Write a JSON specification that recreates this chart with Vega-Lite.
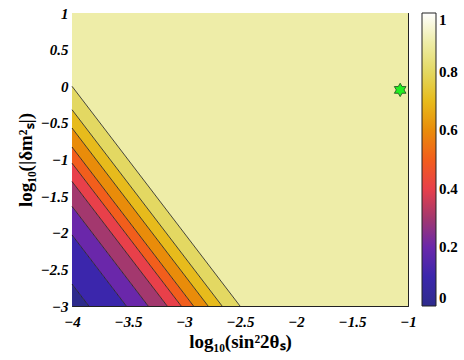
{
  "$schema": "https://vega.github.io/schema/vega-lite/v6.json",
  "width": 336,
  "height": 293,
  "autosize": {"type": "none"},
  "padding": {"left": 72, "top": 13, "right": 56, "bottom": 54},
  "background": "white",
  "config": {
    "view": {"stroke": "#222222", "strokeWidth": 1},
    "axis": {
      "labelFont": "Liberation Serif",
      "labelFontWeight": "bold",
      "labelFontStyle": "italic",
      "labelFontSize": 15,
      "labelColor": "black",
      "titleFont": "Liberation Serif",
      "titleFontWeight": "bold",
      "titleFontSize": 19,
      "titleColor": "black",
      "domain": false,
      "grid": false,
      "tickColor": "#222222",
      "tickSize": -5,
      "labelFlush": false,
      "labelOverlap": false,
      "labelBound": false
    }
  },
  "datasets": {
    "bands": [
      {"band": "b0", "v": 0.0, "x": -4, "y": -3, "y2": -2.70},
      {"band": "b0", "v": 0.0, "x": -3.85, "y": -3, "y2": -3},
      {"band": "b1", "v": 0.1, "x": -4, "y": -2.70, "y2": -2.03},
      {"band": "b1", "v": 0.1, "x": -3.85, "y": -3, "y2": -2.33},
      {"band": "b1", "v": 0.1, "x": -3.515, "y": -3, "y2": -3},
      {"band": "b2", "v": 0.2, "x": -4, "y": -2.03, "y2": -1.64},
      {"band": "b2", "v": 0.2, "x": -3.515, "y": -3, "y2": -2.61},
      {"band": "b2", "v": 0.2, "x": -3.32, "y": -3, "y2": -3},
      {"band": "b3", "v": 0.3, "x": -4, "y": -1.64, "y2": -1.30},
      {"band": "b3", "v": 0.3, "x": -3.32, "y": -3, "y2": -2.66},
      {"band": "b3", "v": 0.3, "x": -3.15, "y": -3, "y2": -3},
      {"band": "b4", "v": 0.4, "x": -4, "y": -1.30, "y2": -1.05},
      {"band": "b4", "v": 0.4, "x": -3.15, "y": -3, "y2": -2.75},
      {"band": "b4", "v": 0.4, "x": -3.025, "y": -3, "y2": -3},
      {"band": "b5", "v": 0.5, "x": -4, "y": -1.05, "y2": -0.83},
      {"band": "b5", "v": 0.5, "x": -3.025, "y": -3, "y2": -2.78},
      {"band": "b5", "v": 0.5, "x": -2.915, "y": -3, "y2": -3},
      {"band": "b6", "v": 0.6, "x": -4, "y": -0.83, "y2": -0.57},
      {"band": "b6", "v": 0.6, "x": -2.915, "y": -3, "y2": -2.74},
      {"band": "b6", "v": 0.6, "x": -2.785, "y": -3, "y2": -3},
      {"band": "b7", "v": 0.7, "x": -4, "y": -0.57, "y2": -0.32},
      {"band": "b7", "v": 0.7, "x": -2.785, "y": -3, "y2": -2.75},
      {"band": "b7", "v": 0.7, "x": -2.66, "y": -3, "y2": -3},
      {"band": "b8", "v": 0.8, "x": -4, "y": -0.32, "y2": 0},
      {"band": "b8", "v": 0.8, "x": -2.66, "y": -3, "y2": -2.68},
      {"band": "b8", "v": 0.8, "x": -2.5, "y": -3, "y2": -3},
      {"band": "b9", "v": 0.9, "x": -4, "y": 0, "y2": 1},
      {"band": "b9", "v": 0.9, "x": -2.5, "y": -3, "y2": 1},
      {"band": "b9", "v": 0.9, "x": -1, "y": -3, "y2": 1}
    ],
    "lines": [
      {"x": -4, "y": -2.70, "x2": -3.85, "y2": -3},
      {"x": -4, "y": -2.03, "x2": -3.515, "y2": -3},
      {"x": -4, "y": -1.64, "x2": -3.32, "y2": -3},
      {"x": -4, "y": -1.30, "x2": -3.15, "y2": -3},
      {"x": -4, "y": -1.05, "x2": -3.025, "y2": -3},
      {"x": -4, "y": -0.83, "x2": -2.915, "y2": -3},
      {"x": -4, "y": -0.57, "x2": -2.785, "y2": -3},
      {"x": -4, "y": -0.32, "x2": -2.66, "y2": -3},
      {"x": -4, "y": 0, "x2": -2.5, "y2": -3}
    ],
    "star": [
      {"x": -1.07, "y": -0.05}
    ]
  },
  "layer": [
    {
      "data": {"name": "bands"},
      "mark": {"type": "area", "interpolate": "linear", "opacity": 1},
      "encoding": {
        "x": {
          "field": "x", "type": "quantitative",
          "scale": {"domain": [-4, -1], "nice": false, "zero": false},
          "axis": {"orient": "bottom", "values": [-4, -3.5, -3, -2.5, -2, -1.5, -1], "format": "~g", "labelPadding": 13,
                   "title": "log₁₀(sin²2θₛ)", "titlePadding": 3}
        },
        "y": {
          "field": "y", "type": "quantitative",
          "scale": {"domain": [-3, 1], "nice": false, "zero": false},
          "axis": {"orient": "left", "values": [-3, -2.5, -2, -1.5, -1, -0.5, 0, 0.5, 1], "format": "~g", "labelPadding": 9,
                   "title": "log₁₀(|δm²ₛ|)", "titlePadding": 5}
        },
        "y2": {"field": "y2"},
        "detail": {"field": "band", "type": "nominal"},
        "color": {
          "field": "v", "type": "quantitative",
          "scale": {
            "domain": [0, 0.1, 0.2, 0.3, 0.4, 0.5, 0.6, 0.7, 0.8, 0.9, 1],
            "range": ["#2E2B8C", "#3B26AC", "#6A27AA", "#A3386E", "#E8404A", "#F25E1C", "#E98C0A", "#E7BB1C", "#E3D862", "#EEEDA8", "#FFFFFF"],
            "interpolate": "rgb"
          },
          "legend": {
            "title": null,
            "orient": "right",
            "direction": "vertical",
            "values": [0, 0.2, 0.4, 0.6, 0.8, 1],
            "format": "~g",
            "gradientLength": 293,
            "gradientThickness": 14,
            "gradientStrokeColor": "#222222",
            "gradientStrokeWidth": 1,
            "offset": 13,
            "padding": 0,
            "labelFont": "Liberation Serif",
            "labelFontWeight": "bold",
            "labelFontSize": 15,
            "labelColor": "black",
            "labelOffset": 3,
            "labelBaseline": "middle"
          }
        }
      }
    },
    {
      "data": {"name": "lines"},
      "mark": {"type": "rule", "color": "#1a1a1a", "strokeWidth": 0.8},
      "encoding": {
        "x": {"field": "x", "type": "quantitative", "axis": null},
        "y": {"field": "y", "type": "quantitative", "axis": null},
        "x2": {"field": "x2"},
        "y2": {"field": "y2"}
      }
    },
    {
      "data": {"name": "star"},
      "mark": {
        "type": "point",
        "shape": "M0,-1 L0.289,-0.5 L0.866,-0.5 L0.577,0 L0.866,0.5 L0.289,0.5 L0,1 L-0.289,0.5 L-0.866,0.5 L-0.577,0 L-0.866,-0.5 L-0.289,-0.5 Z",
        "size": 180,
        "filled": true,
        "fill": "#22EE22",
        "stroke": "#1a4a1a",
        "strokeWidth": 0.8,
        "opacity": 1
      },
      "encoding": {
        "x": {"field": "x", "type": "quantitative",
              "axis": {"orient": "top", "values": [-4, -3.5, -3, -2.5, -2, -1.5, -1], "labels": false, "title": null}},
        "y": {"field": "y", "type": "quantitative",
              "axis": {"orient": "right", "values": [-3, -2.5, -2, -1.5, -1, -0.5, 0, 0.5, 1], "labels": false, "title": null}}
      }
    }
  ],
  "resolve": {"axis": {"x": "independent", "y": "independent"}}
}
